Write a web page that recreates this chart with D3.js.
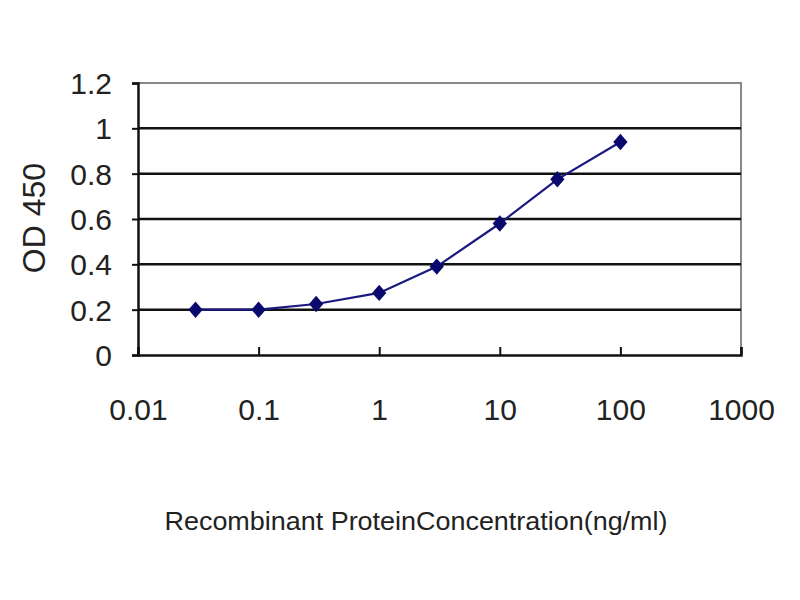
<!DOCTYPE html>
<html>
<head>
<meta charset="utf-8">
<script src="https://cdn.jsdelivr.net/npm/d3@7"></script>
<style>
  body { margin: 0; background: #fff; }
  svg text { font-family: "Liberation Sans", Arial, sans-serif; fill: #222; }
</style>
</head>
<body>
<svg id="svg" width="800" height="600"></svg>
<script>
const concentrations = [0.03, 0.1, 0.3, 1, 3, 10, 30, 100];
const odValues = [0.2, 0.2, 0.225, 0.274, 0.39, 0.58, 0.775, 0.94];
const xTicks = [0.01, 0.1, 1, 10, 100, 1000];
const yTicks = [0, 0.2, 0.4, 0.6, 0.8, 1, 1.2];

const svg = d3.select("#svg");
const plotL = 138, plotR = 741, plotT = 83, plotB = 355;

const x = d3.scaleLog().domain([0.01, 1000]).range([plotL, plotR]);
const y = d3.scaleLinear().domain([0, 1.2]).range([plotB, plotT]);

// plot border (top + right, grey)
svg.append("path")
    .attr("d", `M${plotL},${plotT}H${plotR}V${plotB}`)
    .attr("fill", "none")
    .attr("stroke", "#888")
    .attr("stroke-width", 2);

// gridlines
svg.append("g")
    .selectAll("line")
    .data(yTicks.filter(d => d > 0 && d < 1.2))
    .join("line")
    .attr("x1", plotL).attr("x2", plotR)
    .attr("y1", d => y(d)).attr("y2", d => y(d))
    .attr("stroke", "#111")
    .attr("stroke-width", 2.5);

// y axis
const yAxis = svg.append("g")
    .attr("transform", `translate(${plotL},0)`)
    .call(d3.axisLeft(y).tickValues(yTicks).tickSize(6).tickPadding(20).tickFormat(d3.format("~g")));
yAxis.select(".domain").attr("stroke", "#111").attr("stroke-width", 2.5);
yAxis.selectAll(".tick line").attr("stroke", "#111").attr("stroke-width", 2);
yAxis.selectAll(".tick text").attr("font-size", 30).attr("dy", "0.35em");

// x axis
const xAxis = svg.append("g")
    .attr("transform", `translate(0,${plotB})`)
    .call(d3.axisBottom(x).tickValues(xTicks).tickSize(-8).tickPadding(44).tickFormat(d3.format("~g")));
xAxis.select(".domain").attr("stroke", "#111").attr("stroke-width", 2.5);
xAxis.selectAll(".tick line").attr("stroke", "#111").attr("stroke-width", 2);
xAxis.selectAll(".tick text").attr("font-size", 30);

// line + markers
const pts = concentrations.map((c, i) => [c, odValues[i]]);
svg.append("path")
    .datum(pts)
    .attr("fill", "none")
    .attr("stroke", "#1a1a80")
    .attr("stroke-width", 2.2)
    .attr("d", d3.line().x(d => x(d[0])).y(d => y(d[1])));

svg.append("g")
    .selectAll("path")
    .data(pts)
    .join("path")
    .attr("transform", d => `translate(${x(d[0])},${y(d[1])}) scale(1,1.15)`)
    .attr("d", d3.symbol(d3.symbolDiamond2, 130))
    .attr("fill", "#0a0a6e");

// axis titles
svg.append("text")
    .attr("x", 416).attr("y", 530)
    .attr("text-anchor", "middle")
    .attr("font-size", 26)
    .attr("textLength", 503)
    .attr("lengthAdjust", "spacingAndGlyphs")
    .text("Recombinant ProteinConcentration(ng/ml)");

svg.append("text")
    .attr("transform", "translate(45,218) rotate(-90)")
    .attr("text-anchor", "middle")
    .attr("font-size", 32)
    .text("OD 450");
</script>
</body>
</html>
